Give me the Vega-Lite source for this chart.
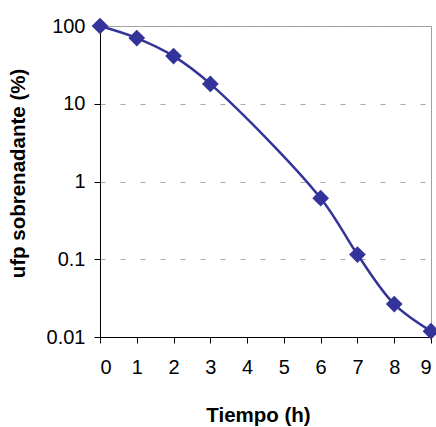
{
  "$schema": "https://vega.github.io/schema/vega-lite/v6.json",
  "width": 331,
  "height": 311,
  "autosize": {"type": "none"},
  "padding": {"left": 100, "top": 26, "right": 5, "bottom": 90},
  "background": "white",
  "config": {
    "font": "Liberation Sans",
    "view": {"stroke": "#a0a0a0", "strokeWidth": 1},
    "axis": {
      "domainColor": "black",
      "domainWidth": 1,
      "tickColor": "black",
      "tickSize": 6,
      "labelColor": "black",
      "labelFont": "Liberation Sans",
      "labelFontSize": 20,
      "titleColor": "black",
      "titleFont": "Liberation Sans",
      "titleFontSize": 20.5,
      "titleFontWeight": "bold"
    }
  },
  "data": {
    "values": [
      {"tiempo": 0, "ufp": 100},
      {"tiempo": 1, "ufp": 70},
      {"tiempo": 2, "ufp": 41},
      {"tiempo": 3, "ufp": 18},
      {"tiempo": 6, "ufp": 0.61},
      {"tiempo": 7, "ufp": 0.115},
      {"tiempo": 8, "ufp": 0.0265},
      {"tiempo": 9, "ufp": 0.0119}
    ]
  },
  "encoding": {
    "x": {
      "field": "tiempo",
      "type": "quantitative",
      "scale": {"domain": [0, 9], "nice": false},
      "axis": {
        "title": "Tiempo (h)",
        "values": [0, 1, 2, 3, 4, 5, 6, 7, 8, 9],
        "grid": false,
        "labelPadding": 14,
        "titleX": 158,
        "titleY": 78,
        "titleBaseline": "middle",
        "titleAlign": "center"
      }
    },
    "y": {
      "field": "ufp",
      "type": "quantitative",
      "scale": {"type": "log", "domain": [0.01, 100], "nice": false},
      "axis": {
        "title": "ufp sobrenadante (%)",
        "values": [0.01, 0.1, 1, 10, 100],
        "format": "~g",
        "grid": true,
        "gridColor": "#aaaaaa",
        "gridDash": [5, 15],
        "labelPadding": 9,
        "titleAngle": 270,
        "titleX": -82,
        "titleY": 147,
        "titleBaseline": "middle",
        "titleAlign": "center"
      }
    }
  },
  "layer": [
    {
      "mark": {
        "type": "line",
        "interpolate": "catmull-rom",
        "color": "#333399",
        "strokeWidth": 2.5
      }
    },
    {
      "mark": {
        "type": "point",
        "shape": "diamond",
        "filled": true,
        "size": 280,
        "color": "#333399",
        "opacity": 1
      }
    }
  ]
}
